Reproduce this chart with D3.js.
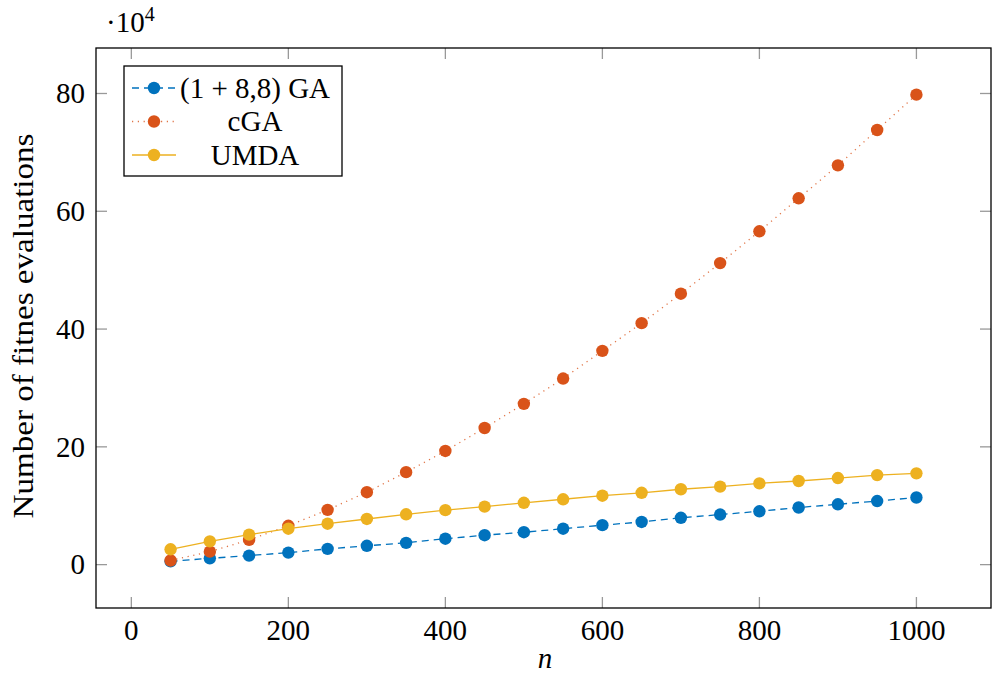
<!DOCTYPE html>
<html>
<head>
<meta charset="utf-8">
<script src="https://cdn.jsdelivr.net/npm/d3@7"></script>
<style>
  body { margin: 0; background: #fff; }
  text { font-family: "Liberation Serif", "Times New Roman", serif; fill: #000; }
</style>
</head>
<body>
<script>
// problem sizes
var sizes = [50, 100, 150, 200, 250, 300, 350, 400, 450, 500, 550, 600, 650, 700, 750, 800, 850, 900, 950, 1000];

// fitness evaluations, in units of 10^4
var gaEvals = [0.56, 1.07, 1.53, 2.04, 2.67, 3.2, 3.7, 4.4, 5.0, 5.5, 6.1, 6.7, 7.25, 7.95, 8.5, 9.06, 9.7, 10.25, 10.8, 11.4];
var cgaEvals = [0.7, 2.2, 4.2, 6.6, 9.3, 12.3, 15.7, 19.3, 23.2, 27.3, 31.6, 36.3, 41.0, 46.0, 51.2, 56.6, 62.2, 67.8, 73.8, 79.8];
var umdaEvals = [2.6, 3.95, 5.1, 6.1, 6.95, 7.75, 8.55, 9.25, 9.85, 10.5, 11.1, 11.7, 12.2, 12.8, 13.25, 13.8, 14.2, 14.7, 15.2, 15.5];

var xTicks = [0, 200, 400, 600, 800, 1000];
var yTicks = [0, 20, 40, 60, 80];

var series = [
  {name: "(1 + 8,8) GA", values: gaEvals, color: "#0072BD", dash: "7,5"},
  {name: "cGA", values: cgaEvals, color: "#D95319", dash: "1.2,4.6"},
  {name: "UMDA", values: umdaEvals, color: "#EDB120", dash: null}
];

var svgWidth = 992, svgHeight = 676;
var margin = {top: 48, right: 1, bottom: 68, left: 96},
    width = svgWidth - margin.left - margin.right,
    height = svgHeight - margin.top - margin.bottom;

var svg = d3.select("body").append("svg").attr("width", svgWidth).attr("height", svgHeight);
var g = svg.append("g").attr("transform", `translate(${margin.left},${margin.top})`);

// pgfplots-style enlarged limits (10% of data range)
var xMin = d3.min(sizes), xMax = d3.max(sizes);
var allY = gaEvals.concat(cgaEvals, umdaEvals);
var yMin = d3.min(allY), yMax = d3.max(allY);
var xPad = (xMax - xMin) * 0.1, yPad = (yMax - yMin) * 0.1;

var x = d3.scaleLinear().domain([xMin - xPad, xMax + xPad]).range([0, width]);
var y = d3.scaleLinear().domain([yMin - yPad, yMax + yPad]).range([height, 0]);

var tickLen = 11, tickColor = "#999";

// ticks, inside on all four sides
xTicks.forEach(function(t) {
  g.append("line").attr("x1", x(t)).attr("x2", x(t)).attr("y1", height).attr("y2", height - tickLen)
    .attr("stroke", tickColor).attr("stroke-width", 1.3);
  g.append("line").attr("x1", x(t)).attr("x2", x(t)).attr("y1", 0).attr("y2", tickLen)
    .attr("stroke", tickColor).attr("stroke-width", 1.3);
  g.append("text").attr("x", x(t)).attr("y", height + 32)
    .attr("text-anchor", "middle").attr("font-size", "29px").text(t);
});
yTicks.forEach(function(t) {
  g.append("line").attr("x1", 0).attr("x2", tickLen).attr("y1", y(t)).attr("y2", y(t))
    .attr("stroke", tickColor).attr("stroke-width", 1.3);
  g.append("line").attr("x1", width).attr("x2", width - tickLen).attr("y1", y(t)).attr("y2", y(t))
    .attr("stroke", tickColor).attr("stroke-width", 1.3);
  g.append("text").attr("x", -11).attr("y", y(t)).attr("dy", "0.34em")
    .attr("text-anchor", "end").attr("font-size", "29px").text(t);
});

// series: line then marks
series.forEach(function(s) {
  var pts = sizes.map(function(n, i) { return [n, s.values[i]]; });
  var line = d3.line().x(function(d) { return x(d[0]); }).y(function(d) { return y(d[1]); });
  g.append("path").datum(pts).attr("d", line)
    .attr("fill", "none").attr("stroke", s.color).attr("stroke-width", 1.3)
    .attr("stroke-dasharray", s.dash)
    .attr("opacity", s.name === "cGA" ? 0.8 : 1);
  g.selectAll(null).data(pts).enter().append("circle")
    .attr("cx", function(d) { return x(d[0]); })
    .attr("cy", function(d) { return y(d[1]); })
    .attr("r", 6.2).attr("fill", s.color);
});

// frame
g.append("rect").attr("width", width).attr("height", height)
  .attr("fill", "none").attr("stroke", "#000").attr("stroke-width", 1.3);

// scale note
var note = svg.append("text").attr("x", 106).attr("y", 32).attr("font-size", "29px");
note.append("tspan").text("\u00b710");
note.append("tspan").attr("font-size", "20px").attr("dy", "-11").text("4");

// axis labels
svg.append("text").attr("x", 545).attr("y", 668).attr("text-anchor", "middle")
  .attr("font-size", "29px").attr("font-style", "italic").text("n");
svg.append("text").attr("transform", "translate(33,326)rotate(-90)")
  .attr("text-anchor", "middle").attr("font-size", "29px")
  .attr("textLength", 385).attr("lengthAdjust", "spacingAndGlyphs")
  .text("Number of fitnes evaluations");

// legend
var legend = svg.append("g").attr("transform", "translate(124,66)");
legend.append("rect").attr("width", 218).attr("height", 110)
  .attr("fill", "#fff").attr("stroke", "#000").attr("stroke-width", 1.3);
series.forEach(function(s, i) {
  var ly = 22 + i * 33.5;
  legend.append("line").attr("x1", 8).attr("x2", 52).attr("y1", ly).attr("y2", ly)
    .attr("stroke", s.color).attr("stroke-width", 1.3).attr("stroke-dasharray", s.dash)
    .attr("opacity", s.name === "cGA" ? 0.8 : 1);
  legend.append("circle").attr("cx", 30).attr("cy", ly).attr("r", 6.2).attr("fill", s.color);
  legend.append("text").attr("x", 131).attr("y", ly).attr("dy", "0.34em")
    .attr("text-anchor", "middle").attr("font-size", "29px").text(s.name);
});
</script>
</body>
</html>
